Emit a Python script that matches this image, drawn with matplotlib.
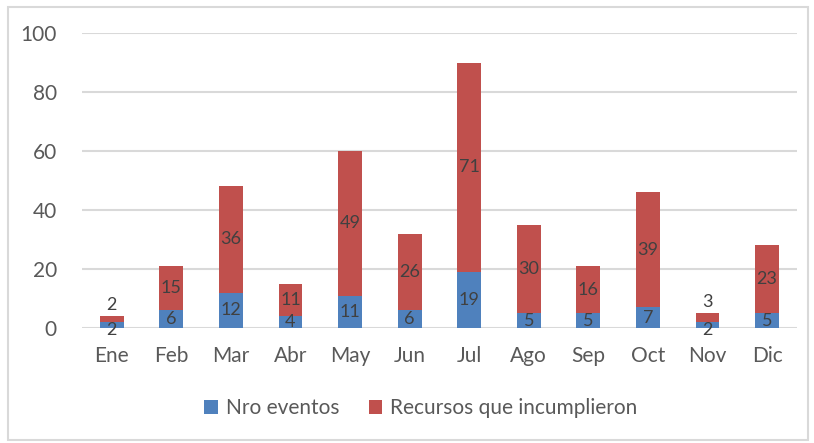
import matplotlib
matplotlib.use("Agg")
import matplotlib.pyplot as plt
from matplotlib.patches import Rectangle
import numpy as np

months = ["Ene", "Feb", "Mar", "Abr", "May", "Jun", "Jul", "Ago", "Sep", "Oct", "Nov", "Dic"]
eventos = [2, 6, 12, 4, 11, 6, 19, 5, 5, 7, 2, 5]
recursos = [2, 15, 36, 11, 49, 26, 71, 30, 16, 39, 3, 23]
yticks = [0, 20, 40, 60, 80, 100]

plt.rcParams['font.family'] = ['Lato', 'DejaVu Sans']
BLUE = "#4F81BD"
RED = "#C0504D"
TXT = "#595959"
LBL = "#404040"

fig = plt.figure(figsize=(8.14, 4.43), dpi=100)
ax = fig.add_axes([0.1007, 0.2596, 0.8783, 0.6659])

x = np.arange(len(months))
w = 0.4
ax.bar(x, eventos, w, color=BLUE, label="Nro eventos", zorder=3)
ax.bar(x, recursos, w, bottom=eventos, color=RED, label="Recursos que incumplieron", zorder=3)

FS = 13
for i in range(len(months)):
    e, r = eventos[i], recursos[i]
    if e < 4:
        ax.annotate(str(e), (x[i], e / 2), xytext=(0, -5), textcoords="offset pixels",
                    ha="center", va="center", fontsize=FS, color=LBL, zorder=4)
    else:
        ax.text(x[i], e / 2, str(e), ha="center", va="center", fontsize=FS, color=LBL, zorder=4)
    if r < 4:
        ax.annotate(str(r), (x[i], e + r), xytext=(0, 11), textcoords="offset pixels",
                    ha="center", va="center", fontsize=FS, color=LBL, zorder=4)
    else:
        ax.text(x[i], e + r / 2, str(r), ha="center", va="center", fontsize=FS, color=LBL, zorder=4)

ax.set_xlim(-0.5, len(months) - 0.5)
ax.set_ylim(0, 100)
ax.set_yticks(yticks)
ax.set_xticks(x)
ax.set_xticklabels(months)
ax.tick_params(axis="both", length=0, labelsize=15, labelcolor=TXT)
ax.tick_params(axis="x", pad=13)
ax.tick_params(axis="y", pad=18)
ax.grid(axis="y", color="#D9D9D9", linewidth=1.5, zorder=0)
for s in ax.spines.values():
    s.set_visible(False)

leg = ax.legend(loc="center", bbox_to_anchor=(0.474, -0.271), ncol=2, frameon=False,
                fontsize=15, handlelength=0.65, handleheight=0.65, columnspacing=1.4,
                handletextpad=0.4, labelcolor=TXT)

fig.patches.append(Rectangle((8 / 814, 3 / 443), 800 / 814, 433 / 443, transform=fig.transFigure,
                             fill=False, edgecolor="#D9D9D9", linewidth=1.5))

fig.savefig("out.png", dpi=100)
